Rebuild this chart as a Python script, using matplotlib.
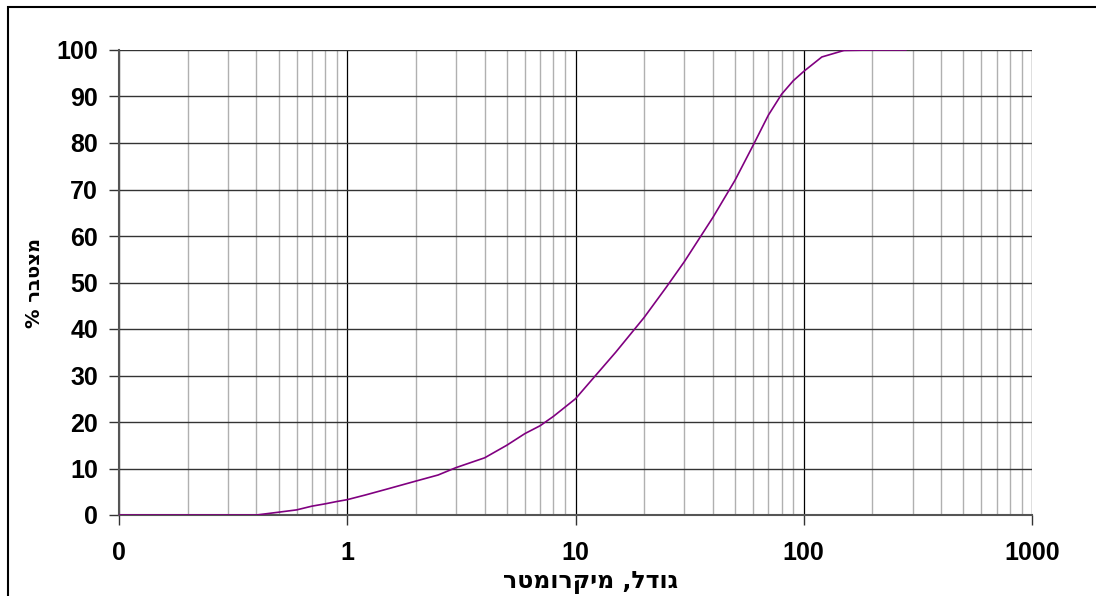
import matplotlib
matplotlib.use("Agg")
import matplotlib.pyplot as plt
from matplotlib.patches import Rectangle
from matplotlib.ticker import FixedLocator, LogLocator, NullFormatter

plt.rcParams['font.family'] = ['Liberation Sans', 'DejaVu Sans']

# particle size (micrometer) and cumulative %
size = [0.1, 0.2, 0.3, 0.4, 0.5, 0.6, 0.7, 0.8, 0.9, 1, 1.2, 1.5, 2, 2.5, 3,
        4, 5, 6, 7, 8, 10, 12, 15, 20, 25, 30, 40, 50, 60, 70, 80, 90, 100,
        120, 150, 200, 280]
cumulative = [0, 0, 0, 0, 0.6, 1.1, 1.9, 2.4, 2.9, 3.3, 4.3, 5.6, 7.3, 8.6, 10.2,
              12.3, 15.0, 17.5, 19.2, 21.2, 25.0, 29.5, 35.0, 42.5, 49.0, 54.5,
              64.0, 72.0, 79.5, 86.0, 90.5, 93.4, 95.4, 98.5, 99.9, 100, 100]

x_ticks = [0.1, 1, 10, 100, 1000]
x_tick_labels = ['0', '1', '10', '100', '1000']
y_ticks = list(range(0, 101, 10))

x_label = 'גודל, מיקרומטר'
y_label = 'מצטבר %'


def rtl(s):
    # matplotlib has no bidi support, flip Hebrew for display
    return s[::-1]


fig = plt.figure(figsize=(10.96, 5.96), dpi=100)
ax = fig.add_axes([119 / 1096, 1 - 515 / 596, (1032 - 119) / 1096, (515 - 50) / 596])

ax.plot(size, cumulative, color='#800080', linewidth=1.2, zorder=3)

ax.set_xscale('log')
ax.set_xlim(0.1, 1000)
ax.set_ylim(0, 100)

ax.xaxis.set_major_locator(FixedLocator(x_ticks))
ax.set_xticklabels(x_tick_labels)
ax.xaxis.set_minor_locator(LogLocator(base=10, subs=range(2, 10), numticks=20))
ax.xaxis.set_minor_formatter(NullFormatter())
ax.set_yticks(y_ticks)

ax.grid(which='major', axis='x', color='black', linewidth=0.9)
ax.grid(which='minor', axis='x', color='#b0b0b0', linewidth=1.0)
ax.grid(which='major', axis='y', color='#333333', linewidth=1.0)
ax.set_axisbelow(True)

for side in ('top', 'right'):
    ax.spines[side].set_visible(False)
for side in ('left', 'bottom'):
    ax.spines[side].set_color('#555555')
    ax.spines[side].set_linewidth(1.5)

ax.tick_params(axis='both', which='major', direction='out', length=7, width=1,
               color='#333333', labelsize=18)
ax.tick_params(axis='x', which='minor', length=0)
ax.tick_params(axis='x', pad=12)
ax.tick_params(axis='y', pad=8)
for lbl in ax.get_xticklabels() + ax.get_yticklabels():
    lbl.set_fontweight('bold')

ax.set_xlabel(rtl(x_label), fontsize=17, fontweight='bold', family='DejaVu Sans')
ax.set_ylabel(rtl(y_label), fontsize=14, fontweight='bold', family='DejaVu Sans')
ax.xaxis.set_label_coords(0.516, -0.118)
ax.yaxis.set_label_coords(-0.082, 0.5)

# outer chart frame (right and bottom edges fall outside the picture)
fig.patches.append(Rectangle((8 / 1096, -0.05), 1.1, 1 - 7 / 596 + 0.05,
                             transform=fig.transFigure, fill=False,
                             edgecolor='black', linewidth=1.5))

fig.savefig('out.png', dpi=100)
